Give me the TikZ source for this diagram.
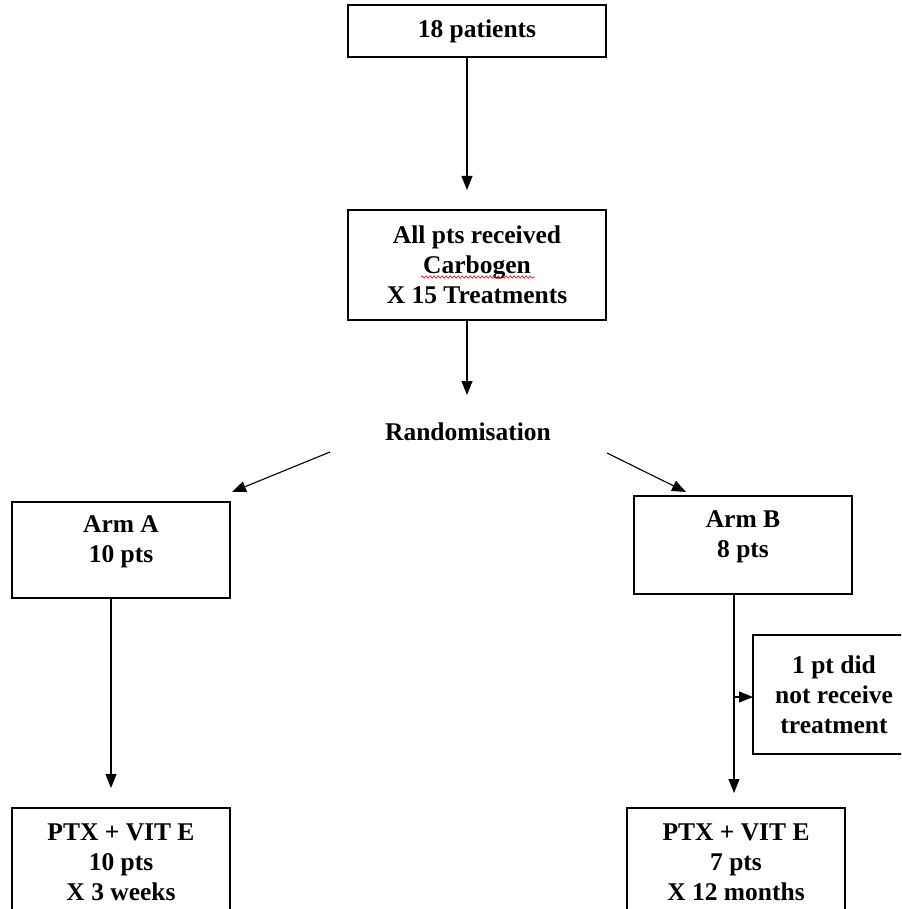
\documentclass[tikz,border=0pt]{standalone}
\usepackage{fontspec}
\setmainfont{Liberation Serif}
\usetikzlibrary{arrows.meta,decorations.pathmorphing,calc}
\begin{document}
\begin{tikzpicture}[x=1pt,y=-1pt,
  box/.style={draw, line width=1.1pt, inner sep=0pt, align=center,
    font=\fontsize{25.5}{30}\selectfont\bfseries},
  arr/.style={line width=1.1pt, -{Triangle[length=14pt,width=11pt]}},
  txt/.style={inner sep=0pt, font=\fontsize{25.5}{30}\selectfont\bfseries},
  wavy/.style={draw=red, line width=0.6pt, decorate,
    decoration={snake, amplitude=1.2pt, segment length=4pt}}]
\useasboundingbox (0,0) rectangle (901,909);
\clip (0,0) rectangle (901,909);

% boxes
\node[box, minimum width=258pt, minimum height=52pt] (b1) at (477,31) {18 patients};
\node[box, minimum width=258pt, minimum height=110pt] (b2) at (477,265)
  {All pts received\\Carbogen\\X 15 Treatments};
\node[txt] (rand) at (468,432) {Randomisation};
\node[box, minimum width=218pt, minimum height=96pt, text depth=22pt] (armA) at (121,550)
  {Arm A\\10 pts};
\node[box, minimum width=218pt, minimum height=98pt, text depth=22pt] (armB) at (743,545)
  {Arm B\\8 pts};
\node[box, minimum width=162pt, minimum height=119pt] (side) at (834,694.5)
  {1 pt did\\not receive\\treatment};
\node[box, minimum width=218pt, minimum height=108pt] (botA) at (121,862)
  {PTX + VIT E\\10 pts\\X 3 weeks};
\node[box, minimum width=218pt, minimum height=108pt] (botB) at (736,862)
  {PTX + VIT E\\7 pts\\X 12 months};

% spell-check underline
\draw[wavy] ($(b2.center)+(-56,12)$) -- ($(b2.center)+(58,12)$);

% connector end points
\coordinate (s1) at (467,57);
\coordinate (e1) at (467,190);
\coordinate (s2) at (467,320);
\coordinate (e2) at (467,395);
\coordinate (rl) at (330,452);
\coordinate (al) at (232,492);
\coordinate (rr) at (607,453);
\coordinate (ar) at (686,492);
\coordinate (sA) at (111,598);
\coordinate (eA) at (111,788);
\coordinate (sB) at (734,594);
\coordinate (eB) at (734,793);
\coordinate (mB) at (734,697);
\coordinate (eS) at (753,697);

\draw[arr] (s1) -- (e1);
\draw[arr] (s2) -- (e2);
\draw[arr] (rl) -- (al);
\draw[arr] (rr) -- (ar);
\draw[arr] (sA) -- (eA);
\draw[arr] (sB) -- (eB);
\draw[arr] (mB) -- (eS);
\end{tikzpicture}
\end{document}
